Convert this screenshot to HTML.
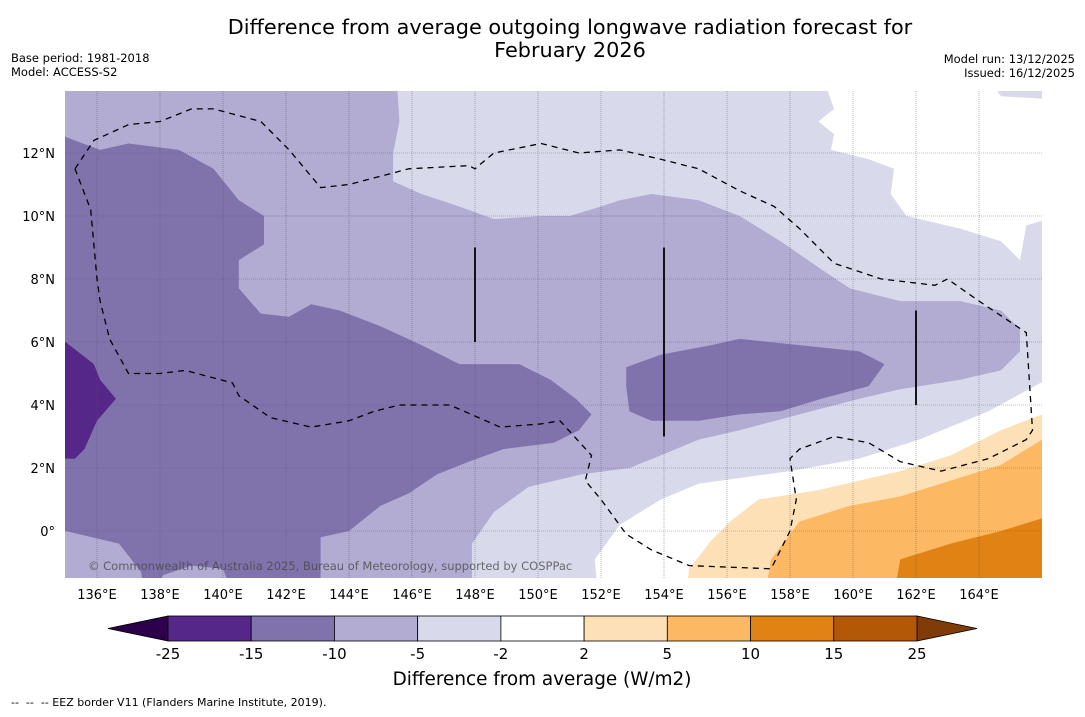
<!DOCTYPE html>
<html><head><meta charset="utf-8"><style>
body{margin:0;background:#fff;width:1085px;height:713px;overflow:hidden;font-family:"DejaVu Sans","Liberation Sans",sans-serif}
</style></head><body>
<svg id="c" width="1085" height="713" xmlns="http://www.w3.org/2000/svg">
<text x="570" y="34" font-size="20.8" text-anchor="middle">Difference from average outgoing longwave radiation forecast for</text>
<text x="570" y="57" font-size="20.8" text-anchor="middle">February 2026</text>
<text x="11" y="62" font-size="11.5">Base period: 1981-2018</text>
<text x="11" y="76" font-size="11.5">Model: ACCESS-S2</text>
<text x="1075" y="63" font-size="11.5" text-anchor="end">Model run: 13/12/2025</text>
<text x="1075" y="77" font-size="11.5" text-anchor="end">Issued: 16/12/2025</text>
<defs><clipPath id="mc"><rect x="65" y="91" width="977" height="487"/></clipPath></defs>
<g id="map" clip-path="url(#mc)"></g>
<g id="axes"></g>
<g id="cbar"></g>
<text x="542" y="685" font-size="18.4" text-anchor="middle">Difference from average (W/m2)</text>
<text x="11" y="706" font-size="11" xml:space="preserve">--  --  -- EEZ border V11 (Flanders Marine Institute, 2019).</text>
</svg>
<script>
const lonTicks=[136,138,140,142,144,146,148,150,152,154,156,158,160,162,164];
const latTicks=[0,2,4,6,8,10,12];
const cbLevels=[-25,-15,-10,-5,-2,2,5,10,15,25];
const cbColors=["#542788","#8073ac","#b2abd2","#d8daeb","#ffffff","#fee0b6","#fdb863","#e08214","#b35806"];
const cbExtLow="#2d004b", cbExtHigh="#7f3b08";
const regionLightLav=[[134,15],[167,15],[167,-2],[134,-2]];
const regionWhiteNE=[[159.0,14.5],[164.2,14.5],[164.7,13.8],[166.5,13.7],[166.5,10.0],[165.5,9.7],[165.3,8.6],[164.7,9.2],[163.4,9.6],[161.7,10.0],[161.2,10.7],[161.3,11.5],[160.5,11.8],[159.3,12.1],[159.4,12.6],[158.9,13.0],[159.4,13.4]];
const regionWhiteS=[[151.9,-2],[151.8,-0.9],[152.6,0.2],[153.9,1.0],[155.1,1.5],[155.8,1.6],[158.0,1.9],[160.2,2.3],[162.1,2.9],[164.3,3.8],[166.5,5.0],[166.5,-2]];
const regionMedium=[[134.5,14.5],[145.5,14.5],[145.6,13.0],[145.4,12.0],[145.4,11.1],[146.3,10.7],[147.5,10.3],[148.6,9.9],[150.1,10.0],[151.0,10.0],[152.0,10.3],[152.6,10.5],[153.6,10.7],[155.1,10.5],[156.4,10.0],[157.7,9.2],[159.0,8.3],[159.9,7.7],[161.5,7.3],[163.4,7.3],[164.7,7.0],[165.3,6.4],[165.3,5.7],[164.7,5.1],[163.4,4.8],[161.5,4.5],[160.2,4.2],[158.3,3.7],[156.4,3.2],[155.1,2.9],[153.9,2.4],[152.9,2.0],[151.4,1.8],[149.7,1.4],[148.6,0.6],[147.9,-0.4],[147.9,-2],[134.5,-2]];
const regionDark=[[134.5,12.7],[136.1,12.1],[137.0,12.3],[138.6,12.1],[139.7,11.5],[140.5,10.5],[141.3,10.0],[141.3,9.1],[140.5,8.6],[140.5,7.7],[141.2,6.9],[142.1,6.8],[142.8,7.2],[143.7,7.0],[145.0,6.5],[146.3,5.9],[147.5,5.3],[149.4,5.3],[150.4,4.8],[151.2,4.2],[151.7,3.7],[151.3,3.2],[150.5,2.8],[148.9,2.6],[147.8,2.2],[146.8,1.8],[145.9,1.2],[145.0,0.8],[144.0,0.0],[143.1,-0.2],[143.1,-2],[140.3,-2],[140.0,-1.2],[139.0,-1.1],[138.1,-1.4],[137.8,-2],[137.5,-2],[137.4,-1.3],[136.7,-0.4],[135.0,0.0],[134.5,0.0]];
const regionDarkE=[[152.8,5.2],[153.9,5.6],[155.5,5.9],[156.4,6.1],[158.3,5.9],[160.2,5.7],[161.0,5.3],[160.5,4.6],[159.0,4.2],[157.7,3.8],[156.4,3.7],[155.1,3.5],[153.6,3.5],[152.9,3.8],[152.8,4.6]];
const regionDarkest=[[134.5,6.0],[135.0,6.0],[135.9,5.3],[136.1,4.8],[136.6,4.2],[136.0,3.5],[135.6,2.6],[135.3,2.3],[134.5,2.3]];
const regionOr1=[[154.7,-2],[154.8,-1.2],[155.5,-0.3],[156.1,0.3],[157.0,1.0],[158.9,1.3],[161.5,1.9],[163.1,2.4],[164.7,3.2],[166.0,3.7],[166.5,3.7],[166.5,-2]];
const regionOr2=[[157.2,-2],[157.4,-0.9],[158.3,0.3],[159.9,0.8],[161.5,1.1],[163.1,1.6],[164.7,2.1],[166.0,2.9],[166.5,2.9],[166.5,-2]];
const regionOr3=[[161.3,-2],[161.5,-0.9],[163.1,-0.4],[164.7,0.0],[166.0,0.4],[166.5,0.4],[166.5,-2]];
const eez=[[135.3,11.5],[135.9,12.4],[137.0,12.9],[138,13.0],[139.0,13.4],[139.7,13.4],[141.2,13.0],[142.1,12.1],[143.1,10.9],[144.0,11.0],[145.9,11.5],[147.8,11.6],[148,11.5],[148.6,12.0],[150.1,12.3],[151.3,12.0],[152.6,12.1],[153.9,11.8],[155.1,11.5],[156.4,10.8],[157.5,10.3],[158.3,9.6],[159.4,8.5],[160.9,8.0],[162.6,7.8],[163.0,8.0],[164.0,7.3],[165.5,6.3],[165.7,3.2],[165.5,2.9],[164.3,2.3],[162.8,1.9],[161.5,2.2],[160.5,2.8],[159.4,3.0],[158.3,2.6],[158.0,2.3],[158.2,1.0],[158.0,0.0],[157.4,-1.2],[154.8,-1.1],[153.6,-0.6],[152.8,-0.1],[152.0,1.0],[151.5,1.6],[151.7,2.4],[150.7,3.5],[150.1,3.4],[148.8,3.3],[147.2,4.0],[145.6,4.0],[144.8,3.8],[144.0,3.5],[142.8,3.3],[141.5,3.6],[140.5,4.3],[140.3,4.7],[138.8,5.1],[138,5.0],[137.0,5.0],[136.4,6.1],[136.1,7.3],[136,8.0],[135.8,10.2],[135.3,11.5]];
const segLon=[148,154,162], segLat0=[6,3,4], segLat1=[9,9,7];

const NS="http://www.w3.org/2000/svg";
const X=lon=>97+(lon-136)*31.5, Y=lat=>531-lat*31.5;
const mk=(t,a,p)=>{const e=document.createElementNS(NS,t);for(const k in a)e.setAttribute(k,a[k]);p.appendChild(e);return e;};
const map=document.getElementById('map'), axes=document.getElementById('axes'), cb=document.getElementById('cbar');
const pts=r=>r.map(p=>X(p[0]).toFixed(1)+','+Y(p[1]).toFixed(1)).join(' ');
const layers=[[regionLightLav,"#d8daeb","light-lavender-region"],[regionWhiteNE,"#ffffff","white-region-ne"],[regionWhiteS,"#ffffff","white-region-south"],[regionMedium,"#b2abd2","medium-purple-region"],[regionDark,"#8073ac","dark-purple-region-west"],[regionDarkE,"#8073ac","dark-purple-region-east"],[regionDarkest,"#542788","darkest-purple-region"],[regionOr1,"#fee0b6","light-orange-region"],[regionOr2,"#fdb863","orange-region"],[regionOr3,"#e08214","dark-orange-region"]];
layers.forEach(l=>{const e=mk('polygon',{points:pts(l[0]),fill:l[1]},map);

});
lonTicks.forEach(v=>{const e=mk('line',{x1:X(v),x2:X(v),y1:91,y2:578,stroke:'#555','stroke-width':0.6,'stroke-dasharray':'1,1','opacity':0.7},map);


const t=mk('text',{x:X(v),y:599,'font-size':13,'text-anchor':'middle'},axes);t.textContent=v+'°E';

});
latTicks.forEach(v=>{const e=mk('line',{x1:65,x2:1042,y1:Y(v),y2:Y(v),stroke:'#555','stroke-width':0.6,'stroke-dasharray':'1,1','opacity':0.7},map);


const t=mk('text',{x:55,y:Y(v)+5,'font-size':13,'text-anchor':'end'},axes);t.textContent=v===0?'0°':v+'°N';

});
const ez=mk('polyline',{points:pts(eez),fill:'none',stroke:'#000','stroke-width':1.3,'stroke-dasharray':'6,5'},map);


segLon.forEach((v,i)=>{const e=mk('line',{x1:X(v),x2:X(v),y1:Y(segLat0[i]),y2:Y(segLat1[i]),stroke:'#000','stroke-width':1.8},map);

});
const cp=mk('text',{x:88,y:570,'font-size':11.5,fill:'#444','fill-opacity':0.75},map);cp.textContent='© Commonwealth of Australia 2025, Bureau of Meteorology, supported by COSPPac';


const cx0=168,cx1=917,cy0=616,cy1=641,sw=(cx1-cx0)/cbColors.length;
const lo=mk('polygon',{points:`${cx0},${cy0} ${cx0},${cy1} 108,${(cy0+cy1)/2}`,fill:cbExtLow,stroke:'#000','stroke-width':0.8},cb);


const hi=mk('polygon',{points:`${cx1},${cy0} ${cx1},${cy1} 977,${(cy0+cy1)/2}`,fill:cbExtHigh,stroke:'#000','stroke-width':0.8},cb);


cbColors.forEach((c,i)=>{const e=mk('rect',{x:cx0+i*sw,y:cy0,width:sw,height:cy1-cy0,fill:c,stroke:'#000','stroke-width':0.8},cb);

});
cbLevels.forEach((v,i)=>{const t=mk('text',{x:cx0+i*sw,y:659,'font-size':15,'text-anchor':'middle'},cb);t.textContent=v;

});
</script>
</body></html>
